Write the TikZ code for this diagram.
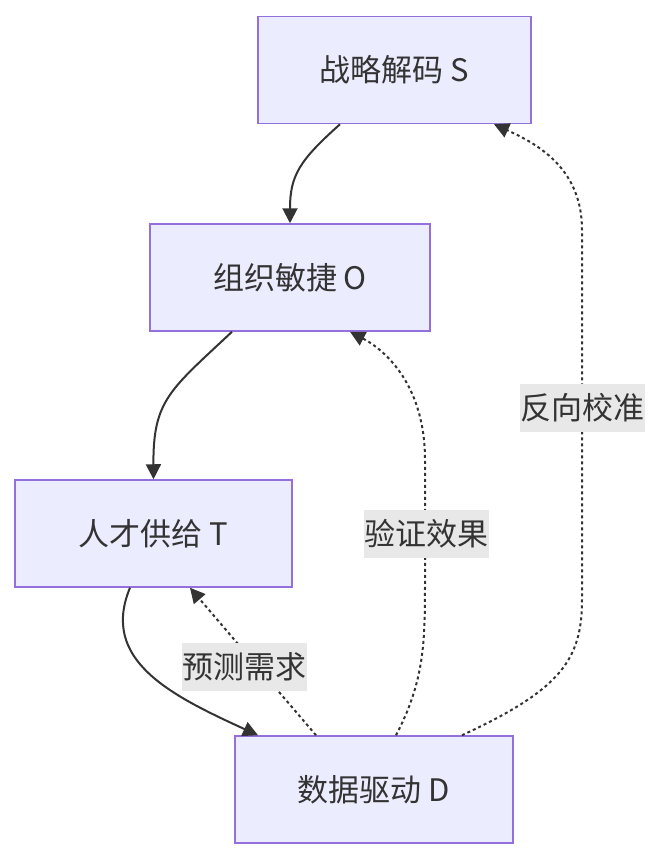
\documentclass[tikz,border=0pt]{standalone}
\usepackage{fontspec}
\setmainfont{Noto Sans CJK SC}
\usepackage{tikz}
\usetikzlibrary{positioning,arrows.meta,calc}
\definecolor{boxfill}{HTML}{ECECFF}
\definecolor{boxline}{HTML}{9370DB}
\definecolor{lblfill}{HTML}{E8E8E8}
\definecolor{ink}{HTML}{333333}

\begin{document}
\begin{tikzpicture}[
  x=1pt, y=-1pt,
  box/.style={draw=boxline, fill=boxfill, line width=1.5pt, text=ink,
              minimum height=107pt, font=\fontsize{31}{36}\selectfont},
  arrow/.style={-{Triangle[length=15pt,width=15pt]}, line width=2pt, draw=ink},
  dotarrow/.style={arrow, dash pattern=on 3pt off 3pt},
  label/.style={fill=lblfill, text=ink, inner xsep=0.5pt, minimum height=48pt,
                font=\fontsize{31}{36}\selectfont}
]
\useasboundingbox (0,0) rectangle (663,860);
\node[box, minimum width=273pt] (strat)  at (394.5,70)  {战略解码 S};
\node[box, minimum width=280pt] (org)    at (290,277.5) {组织敏捷 O};
\node[box, minimum width=277pt] (talent) at (153.5,533.5) {人才供给 T};
\node[box, minimum width=278pt] (data)   at (374,789.5) {数据驱动 D};

\draw[arrow] ([xshift=-54.5pt]strat.south) .. controls (300,160) and (290,175) .. (org.north);
\draw[arrow] ([xshift=-58pt]org.south) .. controls (170,390) and (153,400) .. (talent.north);
\draw[arrow] ([xshift=-23.5pt]talent.south) .. controls (100,660) and (170,695) .. ([xshift=-116pt]data.north);

\draw[dotarrow] ([xshift=-58pt]data.north) -- ([xshift=36.5pt]talent.south);
\draw[dotarrow] ([xshift=22pt]data.north) .. controls (425,680) and (425,640) .. (425,580)
  -- (425,460) .. controls (425,385) and (385,350) .. ([xshift=60pt]org.south);
\draw[dotarrow] ([xshift=88pt]data.north) .. controls (560,690) and (582,660) .. (582,600)
  -- (582,230) .. controls (582,170) and (540,145) .. ([xshift=99.5pt]strat.south);

\node[label] (lblT) at (244,667) {预测需求};
\node[label] (lblO) at (426,534) {验证效果};
\node[label] (lblS) at (582,408) {反向校准};
\end{tikzpicture}
\end{document}
